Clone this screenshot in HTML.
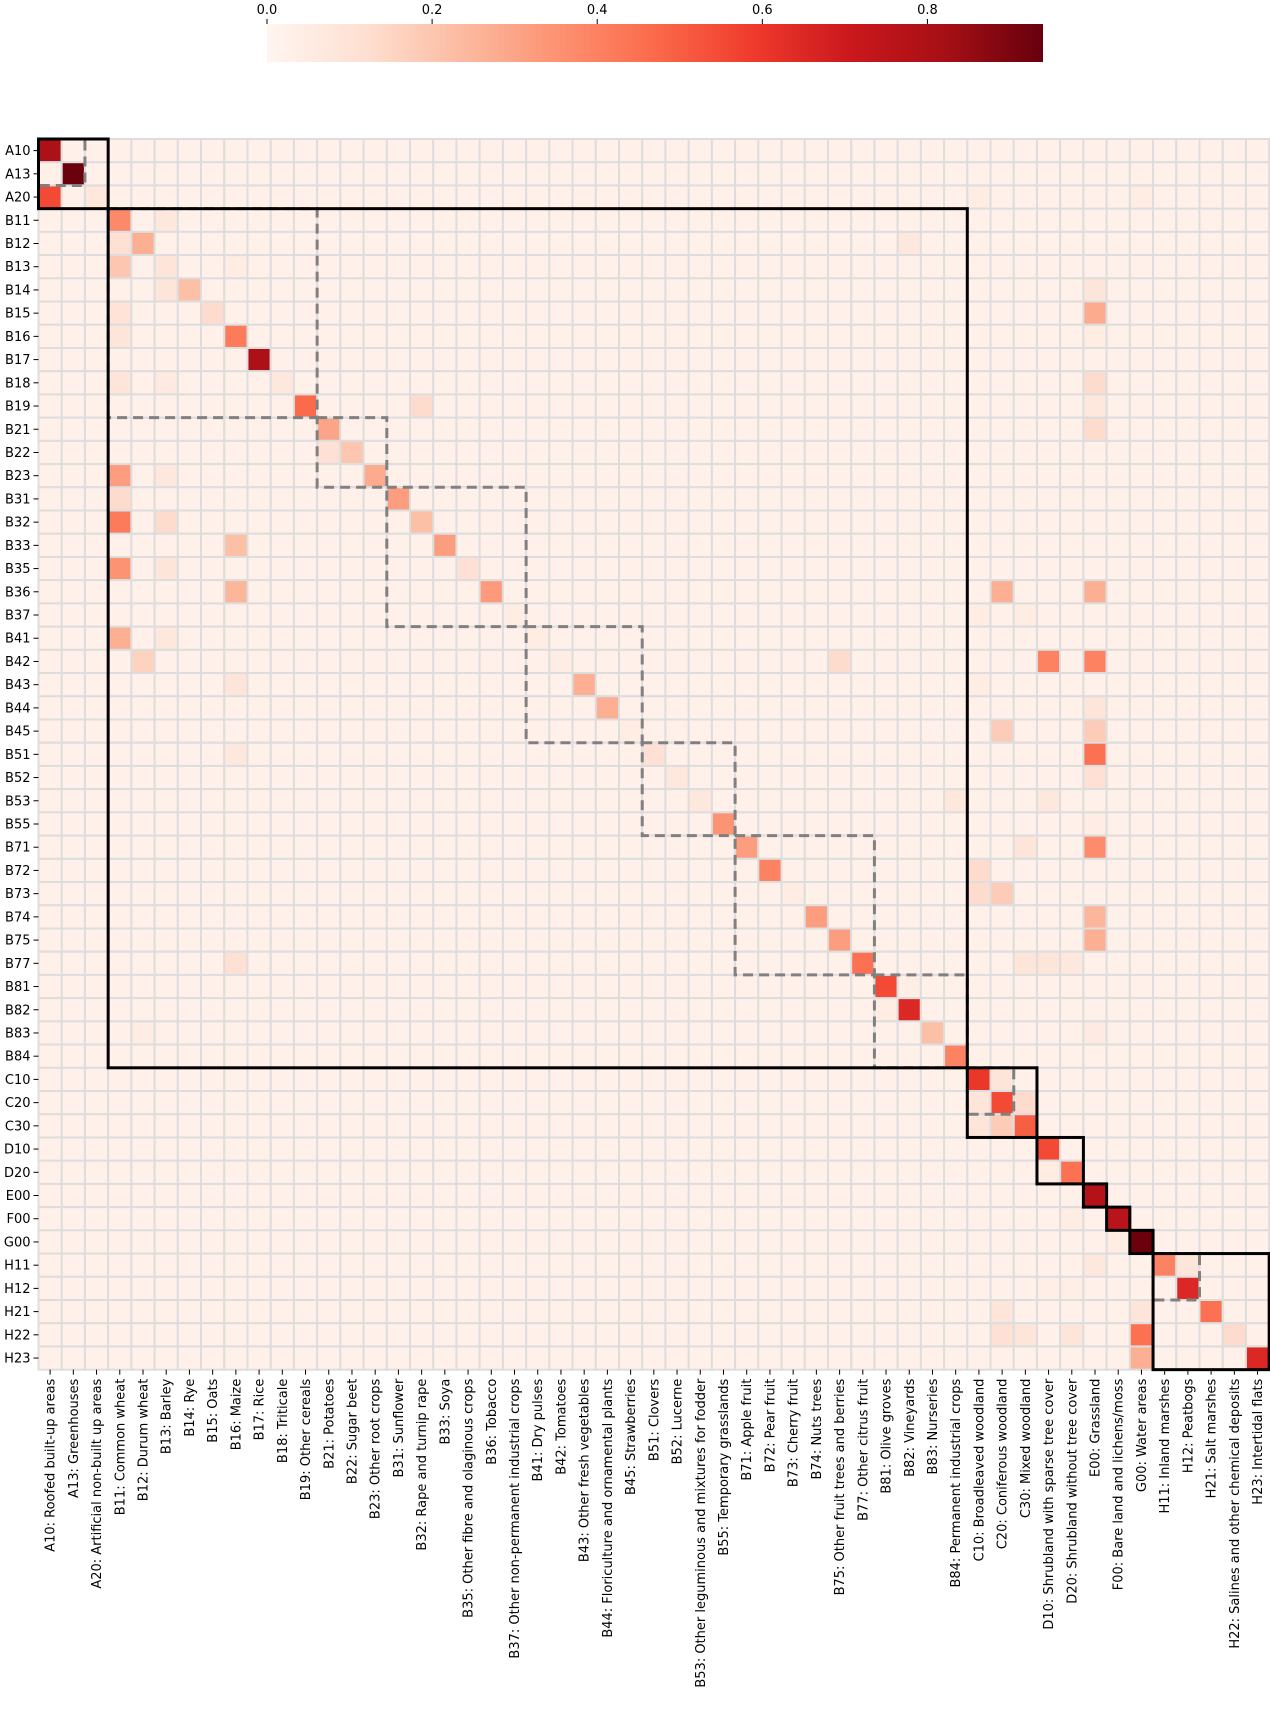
<!DOCTYPE html>
<html><head><meta charset="utf-8"><style>
html,body{margin:0;padding:0;background:#fff;width:1270px;height:1711px;overflow:hidden}
text{font-family:"DejaVu Sans","Liberation Sans",sans-serif;fill:#000}
</style></head><body>
<svg id="chart" width="1270" height="1711" xmlns="http://www.w3.org/2000/svg">
<defs><linearGradient id="cbg" x1="0" x2="1" y1="0" y2="0">
<stop offset="0" stop-color="#fff5f0"/><stop offset="0.125" stop-color="#fee0d2"/><stop offset="0.25" stop-color="#fcbba1"/><stop offset="0.375" stop-color="#fc9272"/><stop offset="0.5" stop-color="#fb6a4a"/><stop offset="0.625" stop-color="#ef3b2c"/><stop offset="0.75" stop-color="#cb181d"/><stop offset="0.875" stop-color="#a50f15"/><stop offset="1" stop-color="#67000d"/></linearGradient></defs>
<g id="cells"></g><g id="boxes"></g><g id="axes"></g><g id="cbar"></g>
</svg>
<script>
const categories=["A10: Roofed built-up areas","A13: Greenhouses","A20: Artificial non-built up areas","B11: Common wheat","B12: Durum wheat","B13: Barley","B14: Rye","B15: Oats","B16: Maize","B17: Rice","B18: Triticale","B19: Other cereals","B21: Potatoes","B22: Sugar beet","B23: Other root crops","B31: Sunflower","B32: Rape and turnip rape","B33: Soya","B35: Other fibre and olaginous crops","B36: Tobacco","B37: Other non-permanent industrial crops","B41: Dry pulses","B42: Tomatoes","B43: Other fresh vegetables","B44: Floriculture and ornamental plants","B45: Strawberries","B51: Clovers","B52: Lucerne","B53: Other leguminous and mixtures for fodder","B55: Temporary grasslands","B71: Apple fruit","B72: Pear fruit","B73: Cherry fruit","B74: Nuts trees","B75: Other fruit trees and berries","B77: Other citrus fruit","B81: Olive groves","B82: Vineyards","B83: Nurseries","B84: Permanent industrial crops","C10: Broadleaved woodland","C20: Coniferous woodland","C30: Mixed woodland","D10: Shrubland with sparse tree cover","D20: Shrubland without tree cover","E00: Grassland","F00: Bare land and lichens/moss","G00: Water areas","H11: Inland marshes","H12: Peatbogs","H21: Salt marshes","H22: Salines and other chemical deposits","H23: Intertidal flats"];
const diagonal=[0.8,0.93,0.08,0.38,0.27,0.27,0.22,0.13,0.42,0.8,0.07,0.47,0.3,0.2,0.28,0.32,0.22,0.32,0.11,0.33,0.05,0.07,0.05,0.27,0.27,0.05,0.11,0.07,0.07,0.35,0.32,0.4,0.05,0.32,0.32,0.45,0.55,0.65,0.22,0.4,0.6,0.55,0.5,0.55,0.45,0.78,0.76,0.93,0.4,0.65,0.45,0.13,0.65];
const offRows=[2,2,2,4,4,5,5,6,6,7,7,8,10,10,10,11,11,12,13,14,14,15,16,16,17,18,18,19,19,19,21,21,22,22,22,22,23,24,25,25,26,26,27,29,30,30,31,32,32,33,34,35,35,35,35,38,40,41,41,42,42,44,46,48,48,50,50,51,51,51,51,52,3,5,8,36,37,20,20,28,28,29,38,38,49,49,21,23,47];
const offCols=[0,40,47,3,37,3,5,5,45,3,45,3,3,5,45,16,45,45,12,3,5,3,3,5,8,3,5,8,41,45,3,5,4,34,43,45,8,45,41,45,45,8,45,45,45,42,40,40,41,45,45,8,42,43,44,45,41,40,42,40,41,43,44,45,49,41,47,41,42,44,47,47,5,8,45,37,36,40,42,39,43,45,4,45,43,44,21,40,46];
const offVals=[0.55,0.05,0.05,0.11,0.07,0.2,0.09,0.09,0.09,0.1,0.28,0.09,0.09,0.06,0.13,0.13,0.07,0.13,0.11,0.32,0.07,0.13,0.42,0.13,0.22,0.35,0.09,0.25,0.27,0.27,0.27,0.07,0.16,0.13,0.4,0.4,0.09,0.09,0.18,0.18,0.45,0.07,0.11,0.32,0.37,0.09,0.13,0.13,0.18,0.25,0.27,0.11,0.09,0.09,0.07,0.09,0.09,0.09,0.13,0.09,0.18,0.05,0.05,0.07,0.09,0.09,0.09,0.11,0.09,0.09,0.45,0.27,0.07,0.05,0.05,0.04,0.05,0.05,0.05,0.07,0.07,0.05,0.05,0.06,0.04,0.04,0.05,0.05,0.05];
const baseline=0.025;
const groups=[[0,2],[3,39],[40,42],[43,44],[45,45],[46,46],[47,47],[48,52]];
const subgroups=[[0,1],[3,11],[12,14],[15,20],[21,25],[26,29],[30,35],[36,39],[40,41],[48,49]];
const cbTicks=[0,0.2,0.4,0.6,0.8];
const vmax=0.94;

const NS="http://www.w3.org/2000/svg";
const N=categories.length,X0=38.5,Y0=139,CS=23.22;
const xPos=i=>X0+i*CS, yPos=i=>Y0+i*CS;
const stops=["#fff5f0","#fee0d2","#fcbba1","#fc9272","#fb6a4a","#ef3b2c","#cb181d","#a50f15","#67000d"].map(h=>[1,3,5].map(k=>parseInt(h.substr(k,2),16)));
function color(v){let t=Math.max(0,Math.min(1,v/vmax))*8;let i=Math.min(7,Math.floor(t)),f=t-i;const c=stops[i].map((a,k)=>Math.round(a+(stops[i+1][k]-a)*f));return `rgb(${c})`;}
function mk(tag,attrs,parent){const e=document.createElementNS(NS,tag);for(const k in attrs)e.setAttribute(k,attrs[k]);parent.appendChild(e);return e;}
const M=[];for(let r=0;r<N;r++){M.push(new Array(N).fill(baseline));M[r][r]=diagonal[r];}
for(let k=0;k<offRows.length;k++)M[offRows[k]][offCols[k]]=offVals[k];
const gc=document.getElementById('cells');
for(let r=0;r<N;r++)for(let c=0;c<N;c++){
 const e=mk('rect',{x:xPos(c),y:yPos(r),width:CS,height:CS,fill:color(M[r][c]),stroke:'#dddddd','stroke-width':2},gc);
 
 
}
const gb=document.getElementById('boxes');
subgroups.forEach(g=>{const e=mk('rect',{x:xPos(g[0]),y:yPos(g[0]),width:(g[1]-g[0]+1)*CS,height:(g[1]-g[0]+1)*CS,fill:'none',stroke:'#808080','stroke-width':3,'stroke-dasharray':'10,6'},gb);
 
 });
groups.forEach(g=>{const e=mk('rect',{x:xPos(g[0]),y:yPos(g[0]),width:(g[1]-g[0]+1)*CS,height:(g[1]-g[0]+1)*CS,fill:'none',stroke:'#000','stroke-width':3},gb);
 
 });
const ga=document.getElementById('axes');
for(let i=0;i<N;i++){
 const cy=yPos(i)+CS/2,cx=xPos(i)+CS/2;
 mk('line',{x1:X0-5,x2:X0,y1:cy,y2:cy,stroke:'#000','stroke-width':1},ga);
 const t=mk('text',{x:X0-8,y:cy+4.5,'text-anchor':'end','font-size':13},ga);t.textContent=categories[i].split(':')[0];
 
 
 const yb=Y0+N*CS;
 mk('line',{x1:cx,x2:cx,y1:yb,y2:yb+5,stroke:'#000','stroke-width':1},ga);
 const u=mk('text',{x:0,y:0,'text-anchor':'end','font-size':13,transform:`translate(${cx+4.5},${yb+9}) rotate(-90)`},ga);u.textContent=categories[i];
 
 
}
const gcb=document.getElementById('cbar');
const CBX=267,CBW=776,CBY=24,CBH=38;
const cb=mk('rect',{x:CBX,y:CBY,width:CBW,height:CBH,fill:'url(#cbg)'},gcb);


cbTicks.forEach(v=>{const x=CBX+v/vmax*CBW;mk('line',{x1:x,x2:x,y1:CBY-5,y2:CBY,stroke:'#000','stroke-width':1},gcb);
 const t=mk('text',{x:x,y:CBY-10,'text-anchor':'middle','font-size':13},gcb);t.textContent=v.toFixed(1);
 
 });
</script>
</body></html>
